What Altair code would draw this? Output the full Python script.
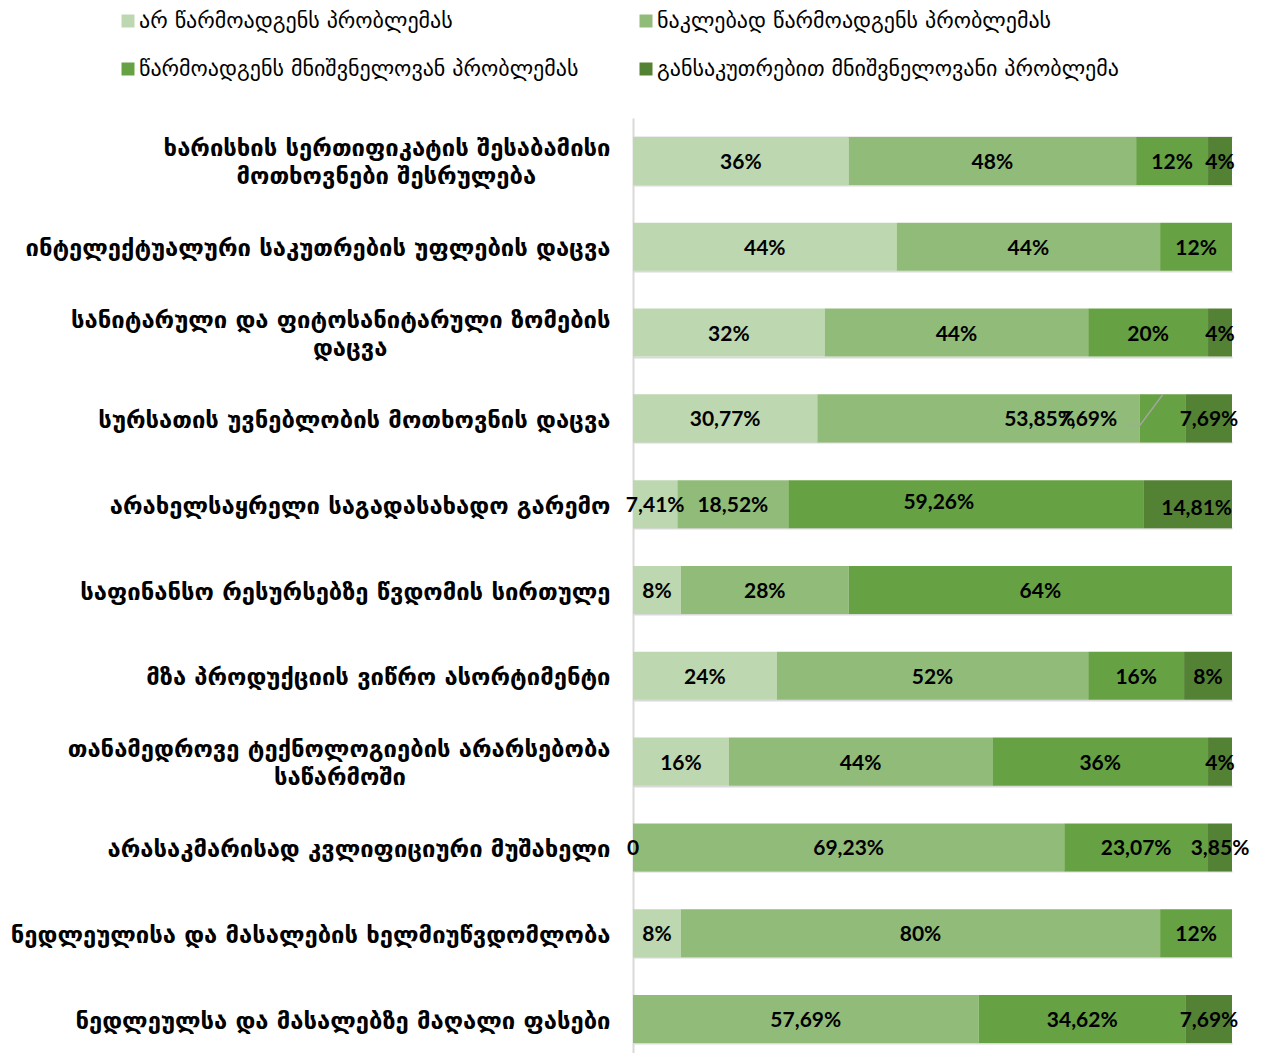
import altair as alt
import pandas as pd

PAD = "\u2800"  # blank, non-whitespace glyph used to centre short second lines

categories = [
    "ხარისხის სერთიფიკატის შესაბამისი\nმოთხოვნები შესრულება" + PAD * 4,
    "ინტელექტუალური საკუთრების უფლების დაცვა",
    "სანიტარული და ფიტოსანიტარული ზომების\nდაცვა" + PAD * 12,
    "სურსათის უვნებლობის მოთხოვნის დაცვა",
    "არახელსაყრელი საგადასახადო გარემო",
    "საფინანსო რესურსებზე წვდომის სირთულე",
    "მზა პროდუქციის ვიწრო ასორტიმენტი",
    "თანამედროვე ტექნოლოგიების არარსებობა\nსაწარმოში" + PAD * 11,
    "არასაკმარისად კვლიფიციური მუშახელი",
    "ნედლეულისა და მასალების ხელმიუწვდომლობა",
    "ნედლეულსა და მასალებზე მაღალი ფასები",
]

series = [
    "არ წარმოადგენს პრობლემას",
    "ნაკლებად წარმოადგენს პრობლემას",
    "წარმოადგენს მნიშვნელოვან პრობლემას",
    "განსაკუთრებით მნიშვნელოვანი პრობლემა",
]

s1 = [36, 44, 32, 30.77, 7.41, 8, 24, 16, 0, 8, None]
s2 = [48, 44, 44, 53.85, 18.52, 28, 52, 44, 69.23, 80, 57.69]
s3 = [12, 12, 20, 7.69, 59.26, 64, 16, 36, 23.07, 12, 34.62]
s4 = [4, None, 4, 7.69, 14.81, None, 8, 4, 3.85, None, 7.69]

colors = ["#BDD7B1", "#90BB78", "#66A143", "#548235"]

# labels nudged away from segment centres: (category index, series index) -> (dx, dy)
nudged = {(3, 1): (61, 0), (3, 2): (-75, 0), (4, 2): (-27, -3), (4, 3): (9, 3)}
nudge_keys = list(nudged)
# label with leader line
leader_cell = (3, 2)

rows = []
for si, vals in enumerate([s1, s2, s3, s4]):
    for ci, v in enumerate(vals):
        rows.append({
            "cat": categories[ci],
            "series": series[si],
            "order": si,
            "value": 0 if v is None else v,
            "has_label": v is not None,
            "nudge": nudge_keys.index((ci, si)) if (ci, si) in nudged else -1,
            "leader": (ci, si) == leader_cell,
        })
df = pd.DataFrame(rows)

base = alt.Chart(df).transform_stack(
    stack="value", groupby=["cat"], sort=[alt.SortField("order")],
    as_=["x0", "x1"], offset="normalize"
).transform_calculate(
    mid="(datum.x0 + datum.x1) / 2",
    label="datum.value == 0 ? '0' : replace(format(datum.value, '.2~f'), '.', ',') + '%'"
)

label_expr = (
    "indexof(datum.label, '\\n') >= 0 ? "
    "split(replace(datum.label, '\\n', '\\n" + PAD + "\\n'), '\\n') : "
    "['" + PAD + "', datum.label]"
)

yenc = alt.Y(
    "cat:N", sort=categories,
    scale=alt.Scale(paddingInner=0.44, paddingOuter=0.22),
    axis=alt.Axis(
        title=None, ticks=False, domainColor="#D9D9D9", domainWidth=2,
        grid=True, gridColor="#D9D9D9", gridWidth=2, tickBand="extent",
        labelFont="DejaVu Sans", labelFontWeight="bold", labelFontSize=23.8,
        labelColor="black", labelPadding=23, labelLimit=0,
        labelBaseline="bottom", labelLineHeight=14,
        labelExpr=label_expr,
    ),
)
xscale = alt.Scale(domain=[0, 1], nice=False, zero=True)
ysimple = alt.Y("cat:N", sort=categories)

bars = base.mark_bar().encode(
    y=yenc,
    x=alt.X("x0:Q", scale=xscale, axis=None),
    x2="x1:Q",
    color=alt.Color(
        "series:N",
        scale=alt.Scale(domain=series, range=colors),
        legend=alt.Legend(
            title=None, orient="none", legendX=-516, legendY=-108,
            columns=2, direction="horizontal", symbolType="square",
            symbolSize=169, symbolStrokeWidth=0, labelFont="DejaVu Sans",
            labelFontSize=22, labelColor="black", labelOffset=0,
            rowPadding=26, columnPadding=56, labelLimit=0,
        ),
    ),
)

text_style = dict(font="Lato", fontWeight="bold", fontSize=21, color="black", baseline="middle")

labels = base.transform_filter("datum.has_label && datum.nudge < 0").mark_text(
    dy=2, **text_style
).encode(y=ysimple, x=alt.X("mid:Q", scale=xscale), text="label:N")

layers = [bars, labels]
for k, (dx, dy) in enumerate(nudged.values()):
    layers.append(
        base.transform_filter(f"datum.nudge == {k}").mark_text(
            dx=dx, dy=2 + dy, **text_style
        ).encode(y=ysimple, x=alt.X("mid:Q", scale=xscale), text="label:N")
    )

leader = base.transform_filter("datum.leader").transform_calculate(lx0="datum.x0 - 0.02")
leader_h = leader.mark_rule(color="#A6A6A6", strokeWidth=1.5, yOffset=7, y2Offset=7).encode(
    y=ysimple, y2="cat:N", x=alt.X("lx0:Q", scale=xscale), x2="x0:Q",
)
leader_d = leader.mark_rule(color="#A6A6A6", strokeWidth=1.5, yOffset=7, y2Offset=-24).encode(
    y=ysimple, y2="cat:N", x=alt.X("x0:Q", scale=xscale), x2="mid:Q",
)
layers += [leader_h, leader_d]

chart = alt.layer(*layers).properties(
    width=599, height=944,
    autosize=alt.AutoSizeParams(type="none"),
    padding={"left": 625, "top": 110, "right": 26, "bottom": 0},
).configure_view(stroke=None)

chart.save("out.html", embed_options={"renderer": "svg", "actions": False})
